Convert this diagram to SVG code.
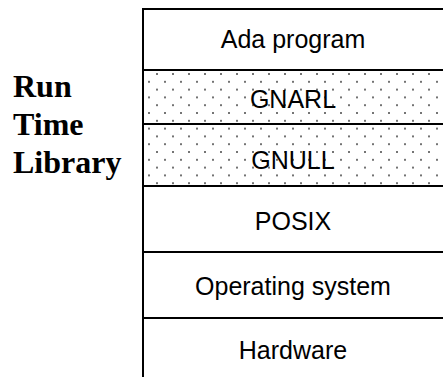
<svg xmlns="http://www.w3.org/2000/svg" width="443" height="377" viewBox="0 0 443 377">
  <style>
    .layer { fill: #fff; stroke: #000; stroke-width: 2; }
    .dotted { fill: url(#dots); stroke: #000; stroke-width: 2; }
    .lbl { font-family: "Liberation Sans", Arial, Helvetica, sans-serif; font-size: 25px; fill: #000; text-anchor: middle; }
    .side { font-family: "Liberation Serif", "Times New Roman", serif; font-size: 32px; font-weight: bold; fill: #000; }
  </style>
  <defs>
    <!-- staggered dot stipple shared by the run-time library layers -->
    <pattern id="dots" patternUnits="userSpaceOnUse" x="149" y="70.1" width="16" height="15.6">
      <rect width="16" height="15.6" fill="#fff"/>
      <circle cx="8" cy="3.9" r="1" fill="#444"/>
      <circle cx="0" cy="11.7" r="1" fill="#444"/>
      <circle cx="16" cy="11.7" r="1" fill="#444"/>
    </pattern>
  </defs>
  <rect width="443" height="377" fill="#fff"/>

  <g id="side-label">
    <text class="side" x="13" y="97">Run</text>
    <text class="side" x="13" y="135">Time</text>
    <text class="side" x="13" y="173">Library</text>
  </g>

  <g id="ada-program">
    <rect class="layer" x="143" y="9" width="304" height="61"/>
    <text class="lbl" x="293" y="48">Ada program</text>
  </g>
  <g id="gnarl">
    <rect class="dotted" x="143" y="70" width="304" height="54"/>
    <text class="lbl" x="293" y="108">GNARL</text>
  </g>
  <g id="gnull">
    <rect class="dotted" x="143" y="124" width="304" height="62"/>
    <text class="lbl" x="293" y="169">GNULL</text>
  </g>
  <g id="posix">
    <rect class="layer" x="143" y="186" width="304" height="66"/>
    <text class="lbl" x="293" y="230">POSIX</text>
  </g>
  <g id="operating-system">
    <rect class="layer" x="143" y="252" width="304" height="66"/>
    <text class="lbl" x="293" y="295">Operating system</text>
  </g>
  <g id="hardware">
    <rect class="layer" x="143" y="318" width="304" height="70"/>
    <text class="lbl" x="293" y="359">Hardware</text>
  </g>
</svg>
